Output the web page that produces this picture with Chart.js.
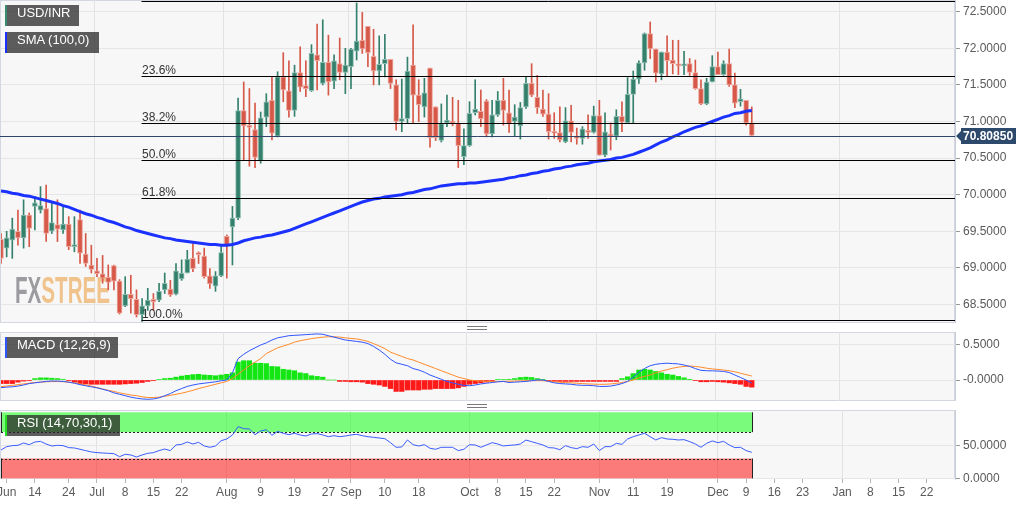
<!DOCTYPE html>
<html>
<head>
<meta charset="utf-8">
<title>USD/INR</title>
<script src="https://cdn.jsdelivr.net/npm/chart.js@4.4.1/dist/chart.umd.min.js"></script>
<style>
  html, body { margin: 0; padding: 0; background: #fff; }
  #wrap { position: relative; width: 1032px; height: 505px; overflow: hidden; }
  #wrap canvas { position: absolute; left: 0; }
  .tag { position: absolute; left: 5px; height: 21px; line-height: 21px; box-sizing: border-box; padding-left: 10px;
         border-left: 2px solid; background: rgba(40,40,40,0.75); color: #fff;
         font: 13px "Liberation Sans", Arial, sans-serif; white-space: nowrap; }
  .grip { position: absolute; left: 467px; width: 20px; height: 2px; border-top: 1px solid #7a7a7a; border-bottom: 1px solid #7a7a7a; }
</style>
</head>
<body>
<div id="wrap">
  <canvas id="cMain" width="1032" height="323" style="top:0;width:1032px;height:323px"></canvas>
  <canvas id="cMacd" width="1032" height="69" style="top:332px;width:1032px;height:69px"></canvas>
  <canvas id="cRsi" width="1032" height="95" style="top:410px;width:1032px;height:95px"></canvas>
  <div class="tag" style="top:5px;width:74px;border-color:#3a8a70">USD/INR</div>
  <div class="tag" style="top:32px;width:94px;border-color:#1b32ff">SMA (100,0)</div>
  <div class="tag" style="top:337px;width:113px;border-color:#2f55ff">MACD (12,26,9)</div>
  <div class="tag" style="top:415px;width:115px;border-color:#22e022">RSI (14,70,30,1)</div>
  <div class="grip" style="top:326px"></div>
  <div class="grip" style="top:404px"></div>
</div>
<script>
// daily USD/INR candles, weekdays from 6 Jun 2019
const opens = [
  69.39, 69.27, 69.38, 69.50, 69.41, 69.72, 69.84, 69.79, 69.81, 69.50,
  69.59, 69.52, 69.60, 69.29, 69.66, 69.19, 69.04, 68.96, 68.92, 68.87,
  69.03, 68.82, 68.48, 68.64, 68.57, 68.36, 68.48, 68.57, 68.56, 68.70,
  68.71, 68.64, 68.85, 68.93, 69.13, 69.21, 69.16, 68.89, 68.75, 68.89,
  69.43, 69.56, 69.68, 71.15, 70.93, 70.89, 70.46, 71.06, 71.29, 70.80,
  71.61, 71.42, 71.15, 71.67, 71.49, 71.42, 71.91, 71.52, 71.81, 71.55,
  71.79, 71.67, 71.75, 71.96, 72.11, 72.30, 71.89, 71.69, 71.79, 71.85,
  71.50, 71.00, 71.04, 71.77, 71.36, 71.20, 71.73, 71.20, 70.74, 70.98,
  71.00, 70.98, 70.52, 70.67, 71.12, 71.14, 71.28, 70.83, 71.09, 71.29,
  71.12, 71.00, 70.94, 71.20, 71.52, 71.33, 71.17, 71.10, 70.86, 70.85,
  70.72, 71.01, 70.80, 70.77, 70.88, 70.85, 71.08, 70.54, 70.82, 70.80,
  71.07, 70.98, 71.37, 71.58, 71.80, 72.20, 71.99, 71.65, 71.95, 71.84,
  71.78, 71.76, 71.79, 71.67, 71.45, 71.24, 71.54, 71.75, 71.64, 71.79,
  71.50, 71.27, 71.29, 70.98
];
const highs = [
  69.47, 69.50, 69.68, 69.79, 69.93, 69.75, 69.97, 70.11, 70.13, 69.88,
  69.93, 69.84, 69.70, 69.70, 69.79, 69.47, 69.31, 69.13, 69.17, 69.04,
  69.04, 68.84, 68.88, 68.90, 68.70, 68.58, 68.72, 68.65, 68.79, 68.93,
  68.83, 69.06, 69.11, 69.24, 69.34, 69.22, 69.27, 68.99, 68.95, 69.31,
  69.45, 69.84, 71.32, 71.54, 71.45, 71.25, 71.13, 71.38, 71.61, 71.68,
  71.94, 71.83, 71.77, 72.02, 71.83, 72.05, 72.33, 72.39, 72.18, 71.91,
  72.14, 72.00, 72.00, 72.62, 72.49, 72.30, 72.26, 72.17, 72.19, 71.85,
  71.57, 71.58, 71.88, 72.32, 71.57, 71.59, 71.73, 71.20, 71.24, 71.36,
  71.33, 71.29, 70.90, 71.27, 71.57, 71.43, 71.30, 71.29, 71.41, 71.59,
  71.43, 71.23, 71.26, 71.61, 71.79, 71.63, 71.43, 71.38, 71.12, 71.20,
  71.19, 71.22, 70.91, 70.93, 71.09, 71.21, 71.29, 71.12, 70.98, 71.16,
  71.27, 71.60, 71.69, 71.83, 72.21, 72.36, 71.99, 71.95, 72.17, 72.11,
  72.11, 71.96, 71.86, 71.84, 71.57, 71.59, 71.90, 71.95, 71.83, 71.99,
  71.66, 71.44, 71.29, 71.20
];
const lows = [
  69.06, 69.15, 69.13, 69.31, 69.27, 69.29, 69.52, 69.75, 69.36, 69.47,
  69.36, 69.47, 69.25, 69.22, 69.06, 69.02, 68.93, 68.88, 68.79, 68.70,
  68.70, 68.37, 68.47, 68.38, 68.33, 68.27, 68.42, 68.42, 68.54, 68.65,
  68.61, 68.63, 68.83, 68.93, 68.95, 69.06, 68.86, 68.72, 68.68, 68.88,
  68.86, 69.04, 69.66, 70.47, 70.39, 70.37, 70.43, 70.93, 70.75, 70.79,
  71.27, 71.06, 71.07, 71.41, 71.34, 71.41, 71.43, 71.50, 71.36, 71.45,
  71.57, 71.38, 71.45, 71.84, 71.93, 71.75, 71.50, 71.50, 71.61, 71.45,
  70.88, 70.86, 70.98, 70.98, 71.00, 71.06, 70.65, 70.74, 70.72, 70.93,
  70.94, 70.37, 70.41, 70.66, 71.09, 70.93, 70.79, 70.79, 71.07, 70.95,
  70.85, 70.80, 70.76, 71.18, 71.34, 71.11, 71.07, 70.76, 70.77, 70.72,
  70.71, 70.72, 70.69, 70.69, 70.77, 70.84, 70.54, 70.52, 70.61, 70.75,
  70.86, 70.98, 70.98, 71.52, 71.70, 71.86, 71.54, 71.57, 71.62, 71.65,
  71.64, 71.64, 71.63, 71.44, 71.23, 71.23, 71.54, 71.64, 71.63, 71.48,
  71.19, 71.21, 70.95, 70.8085
];
const closes = [
  69.13, 69.41, 69.53, 69.41, 69.72, 69.54, 69.89, 69.85, 69.47, 69.62,
  69.53, 69.60, 69.29, 69.32, 69.20, 69.06, 68.98, 68.92, 68.86, 68.80,
  68.82, 68.38, 68.64, 68.58, 68.36, 68.48, 68.56, 68.54, 68.68, 68.79,
  68.63, 68.96, 68.93, 69.12, 68.99, 69.18, 68.88, 68.78, 68.89, 69.21,
  69.31, 69.68, 71.15, 70.94, 70.92, 70.51, 71.05, 71.27, 70.84, 71.61,
  71.43, 71.15, 71.67, 71.47, 71.45, 71.93, 71.83, 71.81, 71.54, 71.83,
  71.67, 71.77, 71.99, 72.10, 71.99, 71.94, 71.69, 71.78, 71.85, 71.52,
  71.00, 71.04, 71.69, 71.36, 71.23, 71.39, 70.78, 70.78, 70.97, 71.02,
  70.98, 70.67, 70.67, 71.11, 71.17, 71.04, 70.83, 71.09, 71.29, 71.15,
  70.97, 71.06, 71.19, 71.52, 71.36, 71.19, 71.10, 70.86, 70.84, 70.75,
  71.01, 70.85, 70.77, 70.90, 70.85, 71.08, 70.54, 70.86, 70.80, 71.07,
  70.99, 71.37, 71.58, 71.80, 72.20, 71.99, 71.66, 71.95, 71.83, 71.79,
  71.76, 71.78, 71.67, 71.45, 71.24, 71.54, 71.75, 71.64, 71.79, 71.50,
  71.25, 71.31, 70.98, 70.8085
];
const sma100 = [
  70.05, 70.04, 70.02, 70.01, 69.99, 69.98, 69.96, 69.94, 69.92, 69.90,
  69.88, 69.85, 69.83, 69.80, 69.77, 69.74, 69.72, 69.69, 69.67, 69.64,
  69.62, 69.59, 69.56, 69.54, 69.51, 69.49, 69.47, 69.45, 69.43, 69.41,
  69.40, 69.38, 69.37, 69.36, 69.35, 69.34, 69.33, 69.32, 69.32, 69.31,
  69.31, 69.32, 69.34, 69.37, 69.39, 69.41, 69.42, 69.44, 69.45, 69.47,
  69.49, 69.51, 69.54, 69.57, 69.60, 69.63, 69.66, 69.69, 69.72, 69.75,
  69.78, 69.81, 69.84, 69.87, 69.90, 69.92, 69.94, 69.95, 69.97, 69.98,
  69.99, 70.00, 70.02, 70.03, 70.05, 70.07, 70.08, 70.10, 70.12, 70.13,
  70.14, 70.15, 70.15, 70.16, 70.16, 70.17, 70.18, 70.19, 70.20, 70.21,
  70.23, 70.24, 70.26, 70.27, 70.29, 70.30, 70.32, 70.33, 70.35, 70.36,
  70.38, 70.39, 70.41, 70.42, 70.43, 70.45, 70.46, 70.47, 70.48, 70.50,
  70.51, 70.53, 70.55, 70.58, 70.61, 70.64, 70.68, 70.72, 70.75, 70.79,
  70.82, 70.86, 70.89, 70.92, 70.94, 70.97, 71.00, 71.03, 71.06, 71.08,
  71.11, 71.12, 71.14, 71.15
];
const macdLine = [
  -0.107, -0.10, -0.095, -0.085, -0.07, -0.05, -0.04, -0.03, -0.02, -0.014,
  -0.015, -0.02, -0.03, -0.045, -0.065, -0.08, -0.095, -0.11, -0.13, -0.15,
  -0.18, -0.20, -0.22, -0.24, -0.255, -0.265, -0.27, -0.265, -0.25, -0.22,
  -0.19, -0.15, -0.12, -0.09, -0.07, -0.055, -0.045, -0.035, -0.025, -0.01,
  0.0, 0.1, 0.3, 0.36, 0.41, 0.45, 0.49, 0.52, 0.56, 0.59,
  0.605, 0.62, 0.625, 0.63, 0.635, 0.64, 0.645, 0.64, 0.62, 0.6,
  0.58, 0.56, 0.55, 0.54, 0.53, 0.51, 0.47, 0.42, 0.36, 0.29,
  0.24, 0.22, 0.2, 0.16, 0.14, 0.11, 0.07, 0.04, 0.01, -0.02,
  -0.04, -0.06, -0.075, -0.08, -0.07, -0.055, -0.045, -0.035, -0.025, -0.02,
  -0.035, -0.03, -0.025, -0.02, -0.01, 0.0, 0.0, -0.02, -0.04, -0.05,
  -0.055, -0.06, -0.07, -0.075, -0.075, -0.08, -0.09, -0.09, -0.085, -0.07,
  -0.05, -0.02, 0.04, 0.11, 0.16, 0.2, 0.22, 0.23, 0.235, 0.23,
  0.225, 0.21, 0.19, 0.16, 0.135, 0.13, 0.128, 0.125, 0.12, 0.105,
  0.07, 0.035, 0.0, -0.045
];
const macdSignal = [
  -0.093, -0.085, -0.075, -0.065, -0.055, -0.045, -0.035, -0.03, -0.025, -0.022,
  -0.022, -0.023, -0.03, -0.04, -0.055, -0.07, -0.085, -0.105, -0.125, -0.145,
  -0.16, -0.18, -0.195, -0.21, -0.22, -0.235, -0.245, -0.245, -0.24, -0.228,
  -0.215, -0.2, -0.185, -0.165, -0.145, -0.12, -0.1, -0.08, -0.06, -0.04,
  -0.02, 0.02, 0.08, 0.14, 0.2, 0.25, 0.3, 0.37, 0.41, 0.45,
  0.476, 0.5, 0.53, 0.55, 0.565, 0.58, 0.59, 0.6, 0.605, 0.605,
  0.6, 0.59, 0.582, 0.575, 0.56, 0.54, 0.51, 0.475, 0.44, 0.39,
  0.36, 0.33, 0.3, 0.28, 0.25, 0.22, 0.19, 0.16, 0.13, 0.1,
  0.07, 0.04, 0.02, 0.0, -0.01, -0.015, -0.02, -0.022, -0.023, -0.02,
  -0.018, -0.015, -0.012, -0.01, -0.009, -0.009, -0.01, -0.015, -0.025, -0.032,
  -0.037, -0.04, -0.045, -0.05, -0.055, -0.058, -0.061, -0.06, -0.055, -0.048,
  -0.035, -0.02, 0.0, 0.03, 0.05, 0.07, 0.1, 0.125, 0.145, 0.165,
  0.18, 0.19, 0.195, 0.19, 0.18, 0.165, 0.155, 0.148, 0.14, 0.13,
  0.115, 0.095, 0.075, 0.056
];
const macdHist = [
  -0.05, -0.05, -0.05, -0.03, -0.015, -0.01, 0.02, 0.03, 0.03, 0.025,
  0.02, 0.01, -0.01, -0.03, -0.05, -0.055, -0.06, -0.06, -0.06, -0.06,
  -0.06, -0.06, -0.055, -0.05, -0.045, -0.035, -0.02, -0.01, 0.005, 0.02,
  0.025, 0.04, 0.055, 0.065, 0.075, 0.08, 0.07, 0.065, 0.06, 0.07,
  0.08, 0.1, 0.25, 0.27, 0.27, 0.235, 0.235, 0.23, 0.19, 0.185,
  0.15, 0.14, 0.13, 0.1, 0.09, 0.06, 0.05, 0.04, 0.0, 0.0,
  -0.02, -0.02, -0.025, -0.025, -0.03, -0.05, -0.06, -0.07, -0.09, -0.12,
  -0.16, -0.16, -0.14, -0.14, -0.14, -0.13, -0.13, -0.12, -0.12, -0.12,
  -0.12, -0.11, -0.09, -0.06, -0.05, -0.04, -0.03, -0.02, 0.005, 0.008,
  0.01, 0.02, 0.035, 0.04, 0.035, 0.02, 0.005, -0.015, -0.02, -0.02,
  -0.02, -0.02, -0.02, -0.02, -0.02, -0.02, -0.02, -0.02, -0.02, -0.02,
  0.02, 0.045, 0.09, 0.14, 0.15, 0.14, 0.12, 0.1, 0.08, 0.07,
  0.05, 0.03, 0.01, -0.005, -0.025, -0.025, -0.02, -0.025, -0.03, -0.04,
  -0.05, -0.06, -0.09, -0.1
];
const rsi = [
  42.9, 48, 49.5, 50, 53.5, 51, 55, 56, 52, 49,
  50, 49.5, 46.5, 46, 44, 42, 40, 39, 38.4, 37.9,
  37.4, 32.8, 36.4, 35.4, 32.3, 35.4, 37.9, 38.9, 42, 44.4,
  42, 50.5, 51.5, 55, 52, 54.5, 49, 47, 49, 57,
  59.6, 65.7, 78.3, 75.3, 74.7, 66.2, 71.7, 73.7, 65.2, 71.2,
  68.2, 66.2, 68.2, 65.7, 64.1, 67.2, 67.7, 65.7, 63.1, 64.6,
  63.1, 64.1, 65.7, 66.7, 64.6, 63.1, 62.1, 61.1, 60.1, 54,
  47, 47.5, 58.1, 51, 49, 51, 45.5, 44, 47, 47,
  47, 42, 44, 51, 50.5, 47, 50.5, 54, 52, 49,
  50, 50.5, 52, 58, 55.5, 53, 50.5, 46.5, 46, 43.4,
  49.5, 46.5, 45, 48, 47, 52, 42, 48, 48, 53,
  51.5, 59.6, 63.1, 65.7, 68.2, 63.1, 58.1, 61.6, 59.6, 59.1,
  58.1, 58.6, 55.6, 52, 47, 53, 56.6, 54, 56, 50.5,
  46.5, 47, 42, 39.4
];

const lastPrice = 70.8085;
const fibStart = 25;   // bar of the swing low
const fibPrices = [72.646, 71.618, 70.982, 70.468, 69.954, 68.29];
const fibLabels = ['', '23.6%', '38.2%', '50.0%', '61.8%', '100.0%'];

const priceTicks = [68.5, 69, 69.5, 70, 70.5, 71, 71.5, 72, 72.5];
const macdTicks = [0.5, 0];
const macdTickLabels = ['0.5000', '-0.0000'];
const rsiTicks = [50, 0];
const rsiTickLabels = ['50.0000', '0.0000'];

const xTickLabels = {
  '2019-06-07': 'Jun', '2019-06-14': '14', '2019-06-24': '24',
  '2019-07-01': 'Jul', '2019-07-08': '8', '2019-07-15': '15', '2019-07-22': '22',
  '2019-08-01': 'Aug', '2019-08-09': '9', '2019-08-19': '19', '2019-08-27': '27',
  '2019-09-02': 'Sep', '2019-09-10': '10', '2019-09-18': '18',
  '2019-10-01': 'Oct', '2019-10-08': '8', '2019-10-15': '15', '2019-10-22': '22',
  '2019-11-01': 'Nov', '2019-11-11': '11', '2019-11-19': '19',
  '2019-12-02': 'Dec', '2019-12-09': '9', '2019-12-16': '16', '2019-12-23': '23',
  '2020-01-01': 'Jan', '2020-01-08': '8', '2020-01-15': '15', '2020-01-22': '22'
};
const monthStarts = ['2019-07-01', '2019-08-01', '2019-09-02', '2019-10-01', '2019-11-01', '2019-12-02', '2020-01-01'];

// weekday calendar, runs past the last candle to leave room on the right
const dates = [];
for (let d = new Date(Date.UTC(2019, 5, 6)); dates.length < 170; d.setUTCDate(d.getUTCDate() + 1)) {
  const wd = d.getUTCDay();
  if (wd !== 0 && wd !== 6) dates.push(d.toISOString().slice(0, 10));
}
const xText = dates.map(d => xTickLabels[d] || '');

const FONT = '"Liberation Sans", Arial, sans-serif';
Chart.defaults.font.family = FONT;
Chart.defaults.font.size = 12;
Chart.defaults.color = '#5a5a5a';

const UP = '#34806c', DOWN = '#d65848';
const UP_EDGE = '#8fbfb2', DOWN_EDGE = '#eda69c';
const isUp = closes.map((c, i) => c >= opens[i]);

function xAxis(labels) {
  return {
    type: 'category',
    offset: false,
    border: { display: false },
    grid: {
      color: c => monthStarts.includes(dates[c.index]) ? '#e2e2e2' : 'transparent',
      drawTicks: labels,
      tickLength: 4,
      tickColor: c => xText[c.index] ? '#b5b5b5' : 'transparent'
    },
    ticks: {
      display: labels,
      autoSkip: false,
      maxRotation: 0,
      minRotation: 0,
      padding: 2,
      color: '#5a5a5a',
      callback: (v, i) => xText[i]
    },
    afterFit: s => { s.paddingLeft = 0; s.paddingRight = 0; s.height = labels ? 26 : 0; }
  };
}

function yAxis(min, max, values, fmt) {
  return {
    position: 'right',
    min: min,
    max: max,
    border: { color: '#c9cdd6' },
    grid: { color: '#e6e6e6', tickLength: 5, tickColor: '#9a9a9a' },
    ticks: { padding: 3, color: '#5a5a5a', callback: fmt },
    afterBuildTicks: s => { s.ticks = values.map(v => ({ value: v })); },
    afterFit: s => { s.width = 77; s.paddingTop = 0; s.paddingBottom = 0; }
  };
}

const panelBg = {
  id: 'panelBg',
  beforeDraw(chart) {
    const { ctx, chartArea: a } = chart;
    ctx.save();
    ctx.fillStyle = '#f7f7f7';
    ctx.fillRect(a.left, a.top, a.right - a.left, a.bottom - a.top);
    ctx.strokeStyle = '#d3d7e1';
    ctx.lineWidth = 1;
    ctx.strokeRect(a.left - 0.5, a.top + 0.5, a.right - a.left, a.bottom - a.top - 1);
    ctx.restore();
  }
};

const baseOptions = {
  responsive: false,
  animation: false,
  events: [],
  plugins: { legend: { display: false }, tooltip: { enabled: false } }
};

// ---------- price panel ----------
const priceOverlays = {
  id: 'priceOverlays',
  beforeDatasetsDraw(chart) {
    const ctx = chart.ctx;
    ctx.save();
    ctx.beginPath();
    ctx.rect(14, 268, 98, 40);
    ctx.clip();
    ctx.font = 'bold 36px "Liberation Sans Narrow", "Liberation Sans", sans-serif';
    const sx = 95 / ctx.measureText('FXSTREE').width;
    const fxw = ctx.measureText('FX').width;
    ctx.translate(15, 303);
    ctx.scale(sx, 1);
    ctx.fillStyle = '#9c9ca0';
    ctx.fillText('FX', 0, 0);
    ctx.fillStyle = '#f1c38c';
    ctx.fillText('STREET', fxw, 0);
    ctx.restore();
  },
  afterDatasetsDraw(chart) {
    const { ctx, chartArea: a, scales: { x, y } } = chart;
    ctx.save();
    ctx.lineWidth = 1;
    const py = Math.round(y.getPixelForValue(lastPrice)) + 0.5;
    ctx.strokeStyle = '#2f4466';
    ctx.beginPath();
    ctx.moveTo(a.left - 1, py);
    ctx.lineTo(a.right, py);
    ctx.stroke();

    const fx = Math.round(x.getPixelForValue(fibStart)) - 0.5;
    ctx.strokeStyle = '#000';
    ctx.fillStyle = '#333';
    ctx.font = '12px ' + FONT;
    fibPrices.forEach((p, k) => {
      const fy = Math.round(y.getPixelForValue(p)) + 0.5;
      ctx.beginPath();
      ctx.moveTo(fx, fy);
      ctx.lineTo(a.right, fy);
      ctx.stroke();
      if (fibLabels[k]) ctx.fillText(fibLabels[k], fx + 0.5, fy - 3);
    });
    ctx.restore();
  },
  afterDraw(chart) {
    const { ctx, scales: { y } } = chart;
    const py = Math.round(y.getPixelForValue(lastPrice));
    ctx.save();
    ctx.fillStyle = '#2d4a6c';
    ctx.beginPath();
    ctx.moveTo(956, py);
    ctx.lineTo(961, py - 5);
    ctx.lineTo(961, py - 8);
    ctx.lineTo(1016, py - 8);
    ctx.lineTo(1016, py + 8);
    ctx.lineTo(961, py + 8);
    ctx.lineTo(961, py + 5);
    ctx.closePath();
    ctx.fill();
    ctx.fillStyle = '#fff';
    ctx.font = 'bold 12px ' + FONT;
    ctx.textBaseline = 'middle';
    ctx.fillText(lastPrice.toFixed(5), 963, py + 1);
    ctx.restore();
  }
};

new Chart(document.getElementById('cMain'), {
  type: 'bar',
  data: {
    labels: dates,
    datasets: [
      {
        type: 'line',
        data: sma100,
        borderColor: '#1b32ff',
        borderWidth: 3,
        pointRadius: 0,
        order: 0
      },
      {
        data: opens.map((o, i) => [o, closes[i]]),
        backgroundColor: isUp.map(u => u ? UP : DOWN),
        borderColor: isUp.map(u => u ? UP_EDGE : DOWN_EDGE),
        borderWidth: 1,
        borderSkipped: false,
        barThickness: 5,
        minBarLength: 2,
        grouped: false,
        order: 1
      },
      {
        data: lows.map((l, i) => [l, highs[i]]),
        backgroundColor: isUp.map(u => u ? UP : DOWN),
        barThickness: 1,
        grouped: false,
        order: 2
      }
    ]
  },
  options: {
    ...baseOptions,
    layout: { padding: { left: 1, right: 0, top: 0, bottom: 0 } },
    scales: {
      x: xAxis(false),
      y: yAxis(68.247, 72.66, priceTicks, v => v.toFixed(4))
    }
  },
  plugins: [panelBg, priceOverlays]
});

// ---------- MACD panel ----------
new Chart(document.getElementById('cMacd'), {
  type: 'bar',
  data: {
    labels: dates,
    datasets: [
      { type: 'line', data: macdLine, borderColor: '#2f55ff', borderWidth: 1, pointRadius: 0, order: 0 },
      { type: 'line', data: macdSignal, borderColor: '#ff8a2a', borderWidth: 1, pointRadius: 0, order: 0 },
      {
        data: macdHist,
        backgroundColor: macdHist.map(v => v >= 0 ? '#14e614' : '#ff1a1a'),
        barThickness: 4.6,
        grouped: false,
        order: 1
      }
    ]
  },
  options: {
    ...baseOptions,
    layout: { padding: { left: 1, right: 0, top: 0, bottom: 0 } },
    scales: {
      x: xAxis(false),
      y: yAxis(-0.294, 0.672, macdTicks, (v, i) => macdTickLabels[i])
    }
  },
  plugins: [panelBg]
});

// ---------- RSI panel ----------
const rsiBands = {
  id: 'rsiBands',
  beforeDatasetsDraw(chart) {
    const { ctx, chartArea: a, scales: { x, y } } = chart;
    const right = Math.round(x.getPixelForValue(rsi.length - 1)) + 0.5;
    const y100 = y.getPixelForValue(100), y70 = y.getPixelForValue(70);
    const y30 = y.getPixelForValue(30), y0 = y.getPixelForValue(0);
    ctx.save();
    ctx.fillStyle = 'rgba(0,255,0,0.5)';
    ctx.fillRect(a.left, y100, right - a.left, y70 - y100);
    ctx.fillStyle = 'rgba(255,0,0,0.5)';
    ctx.fillRect(a.left, y30, right - a.left, y0 - y30);
    ctx.strokeStyle = '#222';
    ctx.lineWidth = 1;
    ctx.beginPath();
    ctx.moveTo(right, y100); ctx.lineTo(right, y70);
    ctx.moveTo(right, y30); ctx.lineTo(right, y0);
    ctx.moveTo(a.left + 0.5, y100); ctx.lineTo(a.left + 0.5, y70);
    ctx.moveTo(a.left + 0.5, y30); ctx.lineTo(a.left + 0.5, y0);
    ctx.stroke();
    ctx.setLineDash([2, 2]);
    ctx.beginPath();
    ctx.moveTo(a.left, Math.round(y70) + 0.5); ctx.lineTo(right, Math.round(y70) + 0.5);
    ctx.moveTo(a.left, Math.round(y30) + 0.5); ctx.lineTo(right, Math.round(y30) + 0.5);
    ctx.stroke();
    ctx.restore();
  }
};

new Chart(document.getElementById('cRsi'), {
  type: 'line',
  data: {
    labels: dates,
    datasets: [
      { data: rsi, borderColor: '#3a5cff', borderWidth: 1, pointRadius: 0 }
    ]
  },
  options: {
    ...baseOptions,
    layout: { padding: { left: 1, right: 0, top: 0, bottom: 0 } },
    scales: {
      x: xAxis(true),
      y: yAxis(-1, 103.5, rsiTicks, (v, i) => rsiTickLabels[i])
    }
  },
  plugins: [panelBg, rsiBands]
});
</script>
</body>
</html>
